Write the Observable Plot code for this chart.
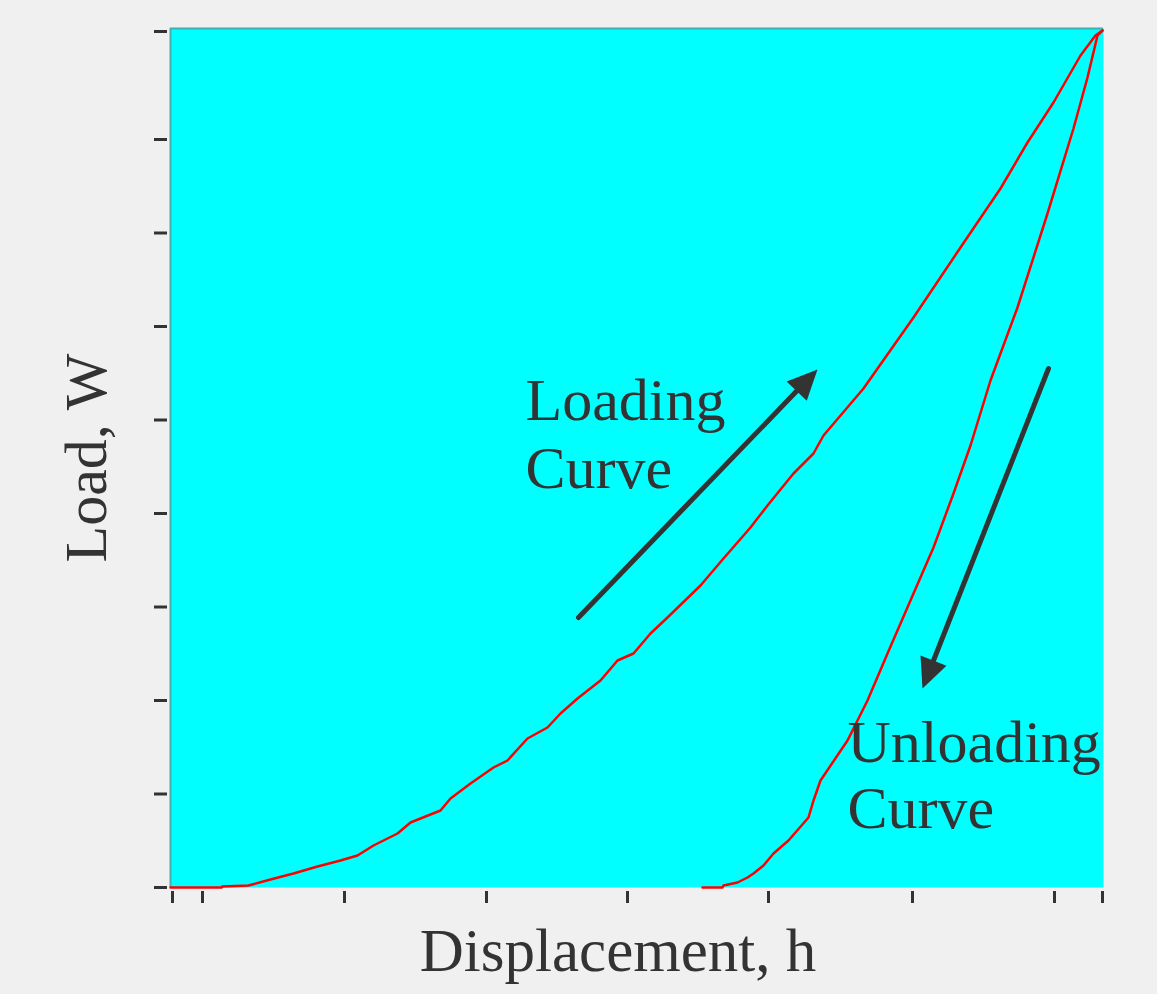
<!DOCTYPE html>
<html>
<head>
<meta charset="utf-8">
<script src="https://cdn.jsdelivr.net/npm/d3@7"></script>
<script src="https://cdn.jsdelivr.net/npm/@observablehq/plot@0.6"></script>
<style>
  html, body { margin: 0; padding: 0; background: #f0f0f0; }
  #chart svg { display: block; }
</style>
</head>
<body>
<div id="chart"></div>
<script>
// Displacement (arbitrary units) and load (arbitrary units)
const loadingH = [0, 51, 52, 78, 100, 123, 147, 170, 187, 203, 227, 240, 270, 280, 300, 323, 337, 357, 377, 390, 407, 430, 447, 463, 480, 497, 530, 553, 580, 597, 623, 643, 653, 693, 743, 790, 830, 857, 883, 910, 925, 932];
const loadingW = [0, 0, 1, 2, 8, 14, 21, 27, 32, 42, 54, 65, 77, 89, 104, 120, 127, 149, 160, 174, 189, 207, 227, 234, 254, 270, 302, 329, 360, 382, 414, 434, 452, 499, 570, 640, 699, 745, 785, 832, 852, 857];
const unloadingH = [532, 552, 553, 567, 577, 583, 593, 603, 618, 638, 643, 650, 677, 697, 717, 743, 763, 783, 800, 820, 847, 877, 903, 917, 927, 932];
const unloadingW = [0, 0, 2, 5, 10, 14, 22, 34, 47, 70, 87, 107, 147, 187, 234, 294, 340, 394, 442, 507, 580, 674, 759, 810, 852, 857];

// Tick positions (no tick labels in the original)
const xTicks = [2, 32, 174, 316, 457, 598, 742, 884, 932];
const yTicks = [0, 93.5, 187, 280.5, 374, 467.5, 561, 654.5, 748, 856];

// Annotation arrows: start and tip
const arrowX1 = [408, 878];
const arrowY1 = [270, 519];
const arrowX2 = [647, 752];
const arrowY2 = [518, 199];

// Annotation texts
const labelText = ["Loading", "Curve", "Unloading", "Curve"];
const labelX = [355, 355, 677, 677];
const labelY = [468, 400, 126, 60];

const xLabel = "Displacement, h";
const yLabel = "Load, W";

const loading = loadingH.map((h, i) => ({h, w: loadingW[i]}));
const unloading = unloadingH.map((h, i) => ({h, w: unloadingW[i]}));
const arrows = arrowX1.map((x1, i) => ({
  x1, y1: arrowY1[i], x2: arrowX2[i], y2: arrowY2[i],
  angle: Math.atan2(arrowX2[i] - x1, arrowY2[i] - arrowY1[i]) * 180 / Math.PI
}));
const labels = labelText.map((t, i) => ({t, x: labelX[i], y: labelY[i]}));

const headSymbol = {
  draw(context) {
    context.moveTo(0, 0);
    context.lineTo(14, 30);
    context.lineTo(-14, 30);
    context.closePath();
  }
};

const serif = "Liberation Serif, Times New Roman, serif";
const ink = "#333333";

const chart = Plot.plot({
  width: 1157,
  height: 994,
  marginLeft: 170,
  marginRight: 54,
  marginTop: 28,
  marginBottom: 107,
  style: {background: "#f0f0f0", fontFamily: serif},
  x: {domain: [0, 933]},
  y: {domain: [0, 859]},
  marks: [
    Plot.frame({fill: "#00ffff", stroke: null}),
    Plot.ruleX([0], {stroke: "#3fb0b0", strokeWidth: 2}),
    Plot.ruleY([859], {stroke: "#3fb0b0", strokeWidth: 2}),
    Plot.axisX({ticks: xTicks, tickSize: 12, dy: 4, tickFormat: () => "", label: null, color: ink, stroke: ink, strokeWidth: 3}),
    Plot.axisY({ticks: yTicks, tickSize: 13, dx: -3, tickFormat: () => "", label: null, color: ink, stroke: ink, strokeWidth: 3}),
    Plot.line(loading, {x: "h", y: "w", stroke: "#ff0000", strokeWidth: 2.5}),
    Plot.line(unloading, {x: "h", y: "w", stroke: "#ff0000", strokeWidth: 2.5}),
    Plot.arrow(arrows, {x1: "x1", y1: "y1", x2: "x2", y2: "y2", stroke: ink, strokeWidth: 5, headLength: 0, insetEnd: 22}),
    Plot.dot(arrows, {x: "x2", y: "y2", symbol: headSymbol, rotate: "angle", fill: ink, stroke: null}),
    Plot.text(labels, {x: "x", y: "y", text: "t", textAnchor: "start", lineAnchor: "bottom", fontSize: 60, fontFamily: serif, fill: ink}),
    Plot.text([xLabel], {frameAnchor: "bottom", textAnchor: "middle", dx: -19, dy: 83, lineAnchor: "bottom", fontSize: 61, fontFamily: serif, fill: ink}),
    Plot.text([yLabel], {frameAnchor: "left", textAnchor: "middle", dx: -65, rotate: -90, lineAnchor: "bottom", fontSize: 60, fontFamily: serif, fill: ink})
  ]
});

document.getElementById("chart").appendChild(chart);
</script>
</body>
</html>
